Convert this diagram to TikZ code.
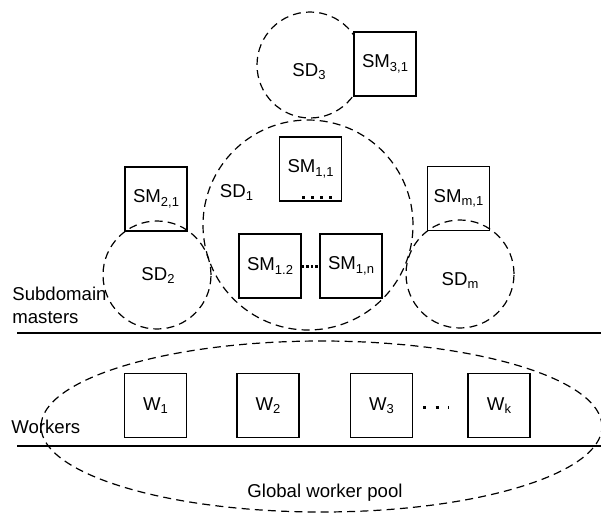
\documentclass[tikz,border=0pt]{standalone}
\usepackage{fontspec}
\setmainfont{Liberation Sans}
\usepackage{tikz}
\usetikzlibrary{shapes.geometric}

\newcommand{\sub}[1]{\raisebox{-1.8pt}{\fontsize{6.5}{7}\selectfont #1}}

\tikzset{
  smbox/.style={draw, line width=0.6pt, minimum width=31pt,
    minimum height=32pt, inner sep=0pt},
  sdcircle/.style={draw, circle, line width=0.6pt,
    dash pattern=on 4pt off 2.6pt, inner sep=0pt},
  poolshape/.style={draw, ellipse, line width=0.6pt,
    dash pattern=on 4pt off 2.6pt, inner sep=0pt,
    minimum width=280.5pt, minimum height=85.5pt},
  layerline/.style={line width=0.7pt},
  rowdots/.style={line width=1.5pt, dash pattern=on 1.5pt off 3pt},
  densedots/.style={line width=1.5pt, dash pattern=on 1.2pt off 1.1pt},
  wdots/.style={line width=1.5pt, dash pattern=on 1.5pt off 4.75pt}
}

\begin{document}
\begin{tikzpicture}[x=0.5pt, y=-0.5pt, font=\fontsize{9.3}{11.5}\selectfont]
  \useasboundingbox (0,0) rectangle (601,516);

  % subdomains
  \node[sdcircle, minimum size=53pt] (sd3) at (310,65) {};
  \node[sdcircle, minimum size=105pt] (sd1) at (308,225) {};
  \node[sdcircle, minimum size=54pt] (sd2) at (157,275) {};
  \node[sdcircle, minimum size=54pt] (sdm) at (460,274) {};
  \node[anchor=base] (sd3lbl) at (309,76) {SD\sub{3}};
  \node[anchor=base] (sd1lbl) at (236.5,197) {SD\sub{1}};
  \node[anchor=base] (sd2lbl) at (158,280) {SD\sub{2}};
  \node[anchor=base] (sdmlbl) at (460,285) {SD\sub{m}};

  % subdomain masters
  \node[smbox, fill=white] (sm31) at (385,64) {SM\sub{3,1}};
  \node[smbox] (sm11) at (310.5,169) {SM\sub{1,1}};
  \node[smbox] (sm12) at (270,266) {SM\sub{1.2}};
  \node[smbox] (sm1n) at (351,266) {SM\sub{1,n}};
  \node[smbox] (sm21) at (156,199) {SM\sub{2,1}};
  \node[smbox] (smm1) at (458.5,198.5) {SM\sub{m,1}};
  \draw[rowdots] ([shift={(-40,-4.5)}]sm11.south east)
    -- ([shift={(-9,-4.5)}]sm11.south east);
  \draw[densedots] (sm12) -- (sm1n);

  % layers
  \coordinate (mleft) at (17,333);
  \coordinate (mright) at (601,333);
  \coordinate (wleft) at (17,446);
  \coordinate (wright) at (601,446);
  \draw[layerline] (mleft) -- (mright);
  \draw[layerline] (wleft) -- (wright);
  \node[anchor=north west, align=left, inner sep=0pt] (mastlbl)
    at (12,286.5) {Subdomain\\masters};
  \node[anchor=base west, inner sep=0pt] (worklbl) at (11,433) {Workers};

  % workers
  \node[poolshape] (pool) at (321.5,426.5) {};
  \foreach \x/\t/\n in {155.5/1/w1, 268/2/w2, 381.5/3/w3, 499/k/wk}
    \node[smbox] (\n) at (\x,405.5) {W\sub{\t}};
  \draw[wdots, shorten <=5pt, shorten >=9pt]
    ([yshift=-1pt]w3.east) -- ([yshift=-1pt]wk.west);
  \node[anchor=base] (poollbl) at (325,497) {Global worker pool};
\end{tikzpicture}
\end{document}
